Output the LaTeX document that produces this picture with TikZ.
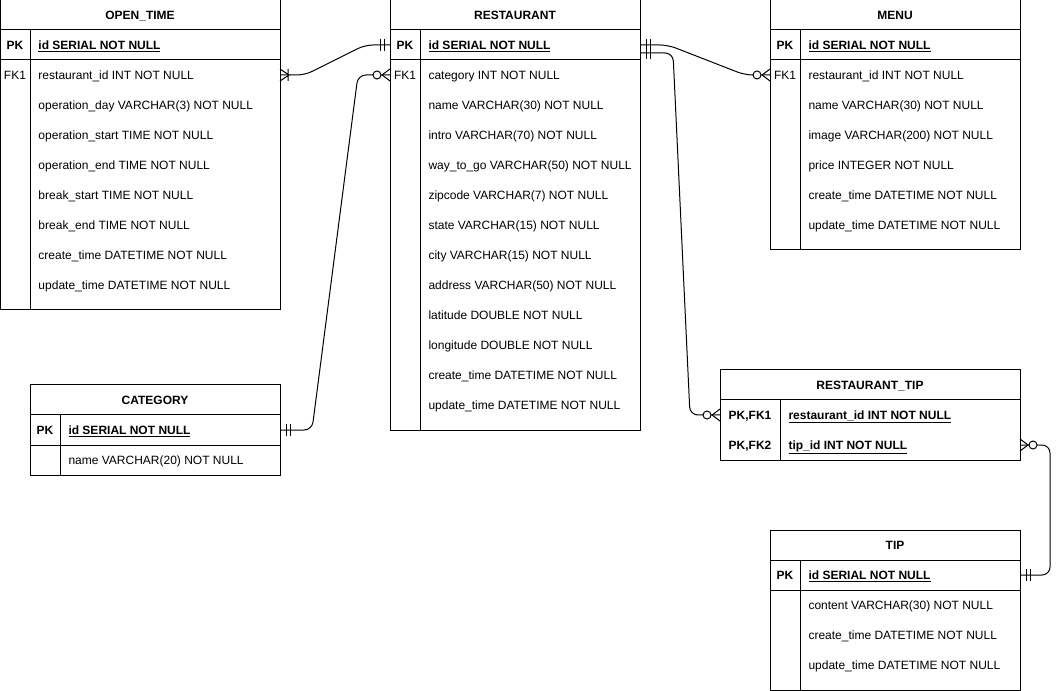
\documentclass[tikz,border=0pt]{standalone}
\usepackage{fontspec}
\setmainfont{Liberation Sans}
\usetikzlibrary{fit,calc,decorations.markings}

\begin{document}
\begin{tikzpicture}[x=0.75pt, y=-0.75pt, line width=0.75pt,
  every node/.style={font=\fontsize{9}{11}\selectfont},
  frame/.style={draw, inner sep=0pt, outer sep=0pt},
  tbltitle/.style={anchor=base, yshift=-3.3pt, font=\fontsize{9}{11}\selectfont\bfseries},
  keyplain/.style={anchor=base, yshift=-3.3pt},
  keyname/.style={keyplain, font=\fontsize{9}{11}\selectfont\bfseries},
  field/.style={anchor=base west, yshift=-3.3pt, inner sep=0pt},
  pkfield/.style={field, font=\fontsize{9}{11}\selectfont\bfseries},
  rel/.style={rounded corners=6pt},
  one start/.style={postaction={decorate, decoration={markings,
    mark=at position 4.5pt with {\draw[sharp corners] (0,-6) -- (0,6);},
    mark=at position 7.5pt with {\draw[sharp corners] (0,-6) -- (0,6);}}}},
  one end/.style={postaction={decorate, decoration={markings,
    mark=at position -4.5pt with {\draw[sharp corners] (0,-6) -- (0,6);},
    mark=at position -7.5pt with {\draw[sharp corners] (0,-6) -- (0,6);}}}},
  zero many end/.style={postaction={decorate, decoration={markings,
    mark=at position -6pt with {\draw[sharp corners] (8,-6) -- (0,0) -- (8,6);},
    mark=at position -9.75pt with {\draw[sharp corners, fill=white] (0,0) circle (4);}}}},
  one many start/.style={postaction={decorate, decoration={markings,
    mark=at position 6.75pt with {\draw[sharp corners] (-9,-6) -- (0,0) -- (-9,6) (-1,-6) -- (-1,6);}}}}]
\useasboundingbox (0,0) rectangle (1060,691);

% OPEN_TIME
\node[frame, fit={(0,0) (280,310)}] (ot) {};
\draw (0,30) -- (280,30) (0,60) -- (280,60) (30,30) -- (30,310);
\node[tbltitle] (ot-title) at (140,15) {OPEN\_TIME};
\node[keyname] (ot-kpk) at (15,45) {PK};
\node[pkfield] (ot-pk) at (38,45) {\underline{id SERIAL NOT NULL}};
\node[keyplain] (ot-kfk1) at (15,75) {FK1};
\foreach \txt [count=\i] in {restaurant\_id INT NOT NULL, operation\_day VARCHAR(3) NOT NULL,
    operation\_start TIME NOT NULL, operation\_end TIME NOT NULL, break\_start TIME NOT NULL,
    break\_end TIME NOT NULL, create\_time DATETIME NOT NULL, update\_time DATETIME NOT NULL}
  \node[field] (ot-\i) at (38,{45+30*\i}) {\txt};

% RESTAURANT
\node[frame, fit={(390,0) (640,430)}] (restaurant) {};
\draw (390,30) -- (640,30) (390,60) -- (640,60) (420,30) -- (420,430);
\node[tbltitle] (restaurant-title) at (515,15) {RESTAURANT};
\node[keyname] (restaurant-kpk) at (405,45) {PK};
\node[pkfield] (restaurant-pk) at (428,45) {\underline{id SERIAL NOT NULL}};
\node[keyplain] (restaurant-kfk1) at (405,75) {FK1};
\foreach \txt [count=\i] in {category INT NOT NULL, name VARCHAR(30) NOT NULL,
    intro VARCHAR(70) NOT NULL, way\_to\_go VARCHAR(50) NOT NULL, zipcode VARCHAR(7) NOT NULL,
    state VARCHAR(15) NOT NULL, city VARCHAR(15) NOT NULL, address VARCHAR(50) NOT NULL,
    latitude DOUBLE NOT NULL, longitude DOUBLE NOT NULL, create\_time DATETIME NOT NULL,
    update\_time DATETIME NOT NULL}
  \node[field] (restaurant-\i) at (428,{45+30*\i}) {\txt};

% MENU
\node[frame, fit={(770,0) (1020,250)}] (menu) {};
\draw (770,30) -- (1020,30) (770,60) -- (1020,60) (800,30) -- (800,250);
\node[tbltitle] (menu-title) at (895,15) {MENU};
\node[keyname] (menu-kpk) at (785,45) {PK};
\node[pkfield] (menu-pk) at (808,45) {\underline{id SERIAL NOT NULL}};
\node[keyplain] (menu-kfk1) at (785,75) {FK1};
\foreach \txt [count=\i] in {restaurant\_id INT NOT NULL, name VARCHAR(30) NOT NULL,
    image VARCHAR(200) NOT NULL, price INTEGER NOT NULL, create\_time DATETIME NOT NULL,
    update\_time DATETIME NOT NULL}
  \node[field] (menu-\i) at (808,{45+30*\i}) {\txt};

% CATEGORY
\node[frame, fit={(30,385) (280,475)}] (category) {};
\draw (30,415) -- (280,415) (30,445) -- (280,445) (60,415) -- (60,475);
\node[tbltitle] (category-title) at (155,400) {CATEGORY};
\node[keyname] (category-kpk) at (45,430) {PK};
\node[pkfield] (category-pk) at (68,430) {\underline{id SERIAL NOT NULL}};
\node[field] (category-1) at (68,460) {name VARCHAR(20) NOT NULL};

% RESTAURANT_TIP
\node[frame, fit={(720,370) (1020,460)}] (rtip) {};
\draw (720,400) -- (1020,400) (780,400) -- (780,460);
\node[tbltitle] (rtip-title) at (870,385) {RESTAURANT\_TIP};
\node[keyname] (rtip-k1) at (750,415) {PK,FK1};
\node[pkfield] (rtip-1) at (788,415) {\underline{restaurant\_id INT NOT NULL}};
\node[keyname] (rtip-k2) at (750,445) {PK,FK2};
\node[pkfield] (rtip-2) at (788,445) {\underline{tip\_id INT NOT NULL}};

% TIP
\node[frame, fit={(770,530) (1020,690)}] (tip) {};
\draw (770,560) -- (1020,560) (770,590) -- (1020,590) (800,560) -- (800,690);
\node[tbltitle] (tip-title) at (895,545) {TIP};
\node[keyname] (tip-kpk) at (785,575) {PK};
\node[pkfield] (tip-pk) at (808,575) {\underline{id SERIAL NOT NULL}};
\foreach \txt [count=\i] in {content VARCHAR(30) NOT NULL, create\_time DATETIME NOT NULL,
    update\_time DATETIME NOT NULL}
  \node[field] (tip-\i) at (808,{575+30*\i}) {\txt};

% relations
\draw[rel, one many start, one end] (ot.east |- 0,75) -- ++(25,0) -- ++(60,-30)
  -- (restaurant.west |- 0,45);
\draw[rel, one start, zero many end] (category.east |- 0,430) -- ++(32,0) -- ++(46,-355)
  -- (restaurant.west |- 0,75);
\draw[rel, one start, zero many end] (restaurant.east |- 0,45) -- ++(28,0) -- ++(77,30)
  -- (menu.west |- 0,75);
\draw[rel, one start, zero many end] (restaurant.east |- 0,53) -- ++(33,0)
  -- ++(17,362) -- (rtip.west |- 0,415);
\draw[rel, one start, zero many end] (tip.east |- 0,575) -- ++(30,0) -- ++(0,-130)
  -- (rtip.east |- 0,445);
\end{tikzpicture}
\end{document}
